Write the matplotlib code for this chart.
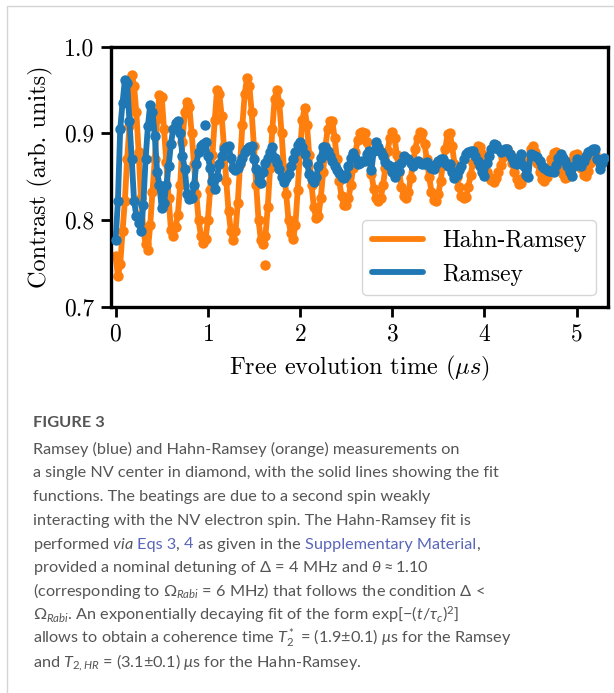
"""
Ramsey / Hahn-Ramsey contrast vs free evolution time, with figure caption
"""

import matplotlib
matplotlib.use("Agg")
import matplotlib.pyplot as plt
import numpy as np
from matplotlib.patches import Rectangle
from matplotlib.ticker import FormatStrFormatter

# sampling step of the measured free evolution time (us)
time_step_us = 0.025

# Hahn-Ramsey contrast (orange)
hahn_ramsey = [
    0.759, 0.736, 0.749, 0.787, 0.822, 0.870, 0.908, 0.967, 0.955, 0.924,
    0.878, 0.825, 0.790, 0.772, 0.766, 0.794, 0.833, 0.870, 0.916, 0.944,
    0.942, 0.905, 0.867, 0.825, 0.789, 0.782, 0.792, 0.806, 0.840, 0.890,
    0.925, 0.936, 0.930, 0.900, 0.865, 0.830, 0.800, 0.782, 0.774, 0.778,
    0.800, 0.835, 0.875, 0.915, 0.950, 0.945, 0.920, 0.885, 0.845, 0.810,
    0.787, 0.777, 0.787, 0.820, 0.865, 0.910, 0.945, 0.964, 0.955, 0.925,
    0.885, 0.840, 0.800, 0.777, 0.772, 0.782, 0.815, 0.860, 0.905, 0.940,
    0.950, 0.935, 0.900, 0.860, 0.830, 0.800, 0.785, 0.778, 0.795, 0.835,
    0.880, 0.915, 0.929, 0.910, 0.875, 0.840, 0.815, 0.802, 0.805, 0.825,
    0.855, 0.885, 0.905, 0.914, 0.914, 0.895, 0.870, 0.845, 0.828, 0.818,
    0.817, 0.825, 0.840, 0.860, 0.878, 0.892, 0.900, 0.901, 0.900, 0.890,
    0.872, 0.853, 0.836, 0.826, 0.822, 0.825, 0.840, 0.860, 0.880, 0.895,
    0.902, 0.895, 0.875, 0.855, 0.838, 0.828, 0.825, 0.832, 0.848, 0.866,
    0.882, 0.895, 0.902, 0.900, 0.888, 0.870, 0.850, 0.833, 0.823, 0.822,
    0.830, 0.845, 0.865, 0.882, 0.899, 0.900, 0.885, 0.865, 0.850, 0.838,
    0.828, 0.825, 0.827, 0.838, 0.852, 0.866, 0.878, 0.885, 0.884, 0.876,
    0.865, 0.856, 0.850, 0.846, 0.844, 0.848, 0.855, 0.864, 0.873, 0.880,
    0.882, 0.876, 0.866, 0.855, 0.847, 0.842, 0.843, 0.850, 0.860, 0.872,
    0.882, 0.885, 0.878, 0.866, 0.855, 0.847, 0.845, 0.850, 0.860, 0.870,
    0.877, 0.878, 0.872, 0.862, 0.853, 0.848, 0.850, 0.858, 0.868, 0.875,
    0.876, 0.870, 0.860, 0.852, 0.851, 0.857, 0.866, 0.874, 0.876, 0.870,
    0.865, 0.868,
]

# Ramsey contrast (blue)
ramsey = [
    0.777, 0.822, 0.905, 0.935, 0.961, 0.958, 0.914, 0.870, 0.822, 0.805,
    0.797, 0.787, 0.817, 0.870, 0.908, 0.933, 0.924, 0.897, 0.856, 0.840,
    0.814, 0.820, 0.840, 0.862, 0.888, 0.905, 0.912, 0.914, 0.900, 0.874,
    0.859, 0.830, 0.824, 0.825, 0.840, 0.865, 0.878, 0.885, 0.888, 0.890,
    0.874, 0.860, 0.845, 0.836, 0.850, 0.865, 0.874, 0.882, 0.884, 0.885,
    0.872, 0.860, 0.858, 0.860, 0.866, 0.872, 0.878, 0.882, 0.884, 0.885,
    0.870, 0.859, 0.845, 0.843, 0.856, 0.866, 0.872, 0.878, 0.884, 0.872,
    0.866, 0.859, 0.850, 0.844, 0.848, 0.853, 0.862, 0.870, 0.878, 0.886,
    0.890, 0.884, 0.876, 0.866, 0.853, 0.847, 0.844, 0.850, 0.862, 0.872,
    0.884, 0.884, 0.880, 0.874, 0.868, 0.862, 0.858, 0.854, 0.850, 0.848,
    0.852, 0.862, 0.872, 0.877, 0.872, 0.865, 0.866, 0.868, 0.868, 0.876,
    0.880, 0.858, 0.880, 0.890, 0.884, 0.878, 0.874, 0.867, 0.864, 0.862,
    0.856, 0.850, 0.862, 0.857, 0.866, 0.874, 0.872, 0.870, 0.866, 0.862,
    0.866, 0.868, 0.866, 0.865, 0.865, 0.867, 0.864, 0.860, 0.859, 0.865,
    0.868, 0.870, 0.870, 0.866, 0.862, 0.865, 0.856, 0.848, 0.852, 0.858,
    0.862, 0.870, 0.876, 0.878, 0.880, 0.880, 0.874, 0.868, 0.862, 0.855,
    0.851, 0.866, 0.874, 0.882, 0.888, 0.887, 0.882, 0.878, 0.880, 0.882,
    0.882, 0.876, 0.872, 0.866, 0.865, 0.872, 0.876, 0.862, 0.852, 0.850,
    0.876, 0.875, 0.874, 0.873, 0.868, 0.862, 0.860, 0.858, 0.857, 0.857,
    0.856, 0.864, 0.872, 0.876, 0.872, 0.868, 0.862, 0.855, 0.851, 0.862,
    0.870, 0.866, 0.862, 0.868, 0.874, 0.878, 0.880, 0.882, 0.882, 0.870,
    0.859, 0.866, 0.872,
]

# single points that sit away from the solid lines
hahn_ramsey_stray_t = [1.62]
hahn_ramsey_stray_c = [0.748]
ramsey_stray_t = [0.97]
ramsey_stray_c = [0.910]

series_labels = ["Hahn-Ramsey", "Ramsey"]
x_ticks = [0, 1, 2, 3, 4, 5]
y_ticks = [0.7, 0.8, 0.9, 1.0]

caption_title = "FIGURE 3"
caption_lines = [
    "Ramsey (blue) and Hahn-Ramsey (orange) measurements on",
    "a single NV center in diamond, with the solid lines showing the fit",
    "functions. The beatings are due to a second spin weakly",
    "interacting with the NV electron spin. The Hahn-Ramsey fit is",
    None,  # mixed-colour line, built from caption_links below
    r"provided a nominal detuning of $\Delta$ = 4 MHz and $\theta\approx$1.10",
    r"(corresponding to $\Omega_{Rabi}$ = 6 MHz) that follows the condition $\Delta$ <",
    r"$\Omega_{Rabi}$. An exponentially decaying fit of the form exp[$-(t/\tau_c)^2$]",
    r"allows to obtain a coherence time $T_2^*$ = (1.9$\pm$0.1) $\mu$s for the Ramsey",
    r"and $T_{2,HR}$ = (3.1$\pm$0.1) $\mu$s for the Hahn-Ramsey.",
]
caption_links = [
    (r"performed $via$ ", False),
    ("Eqs 3", True),
    (", ", False),
    ("4", True),
    (" as given in the ", False),
    ("Supplementary Material", True),
    (",", False),
]

ORANGE = "#ff7f0e"
BLUE = "#1f77b4"
TEXT_GREY = "#555555"
LINK_BLUE = "#5a66b8"

plt.rcParams["font.family"] = "serif"
plt.rcParams["font.serif"] = ["cmr10"]
plt.rcParams["mathtext.fontset"] = "cm"
plt.rcParams["axes.formatter.use_mathtext"] = True
plt.rcParams["mathtext.rm"] = "Lato"
plt.rcParams["mathtext.it"] = "Lato:italic"
plt.rcParams["mathtext.bf"] = "Lato:bold"

W, H = 614, 693
fig = plt.figure(figsize=(W / 100, H / 100), dpi=100)
ax = fig.add_axes([111 / W, 1 - 307 / H, (608 - 111) / W, (307 - 46.5) / H])

t_hr = np.arange(len(hahn_ramsey)) * time_step_us
t_r = np.arange(len(ramsey)) * time_step_us

line_kw = dict(lw=4.2, solid_capstyle="round", solid_joinstyle="round")
dot_kw = dict(ls="none", marker="o", ms=7.5, mew=0)

ax.plot(t_hr, hahn_ramsey, color=ORANGE, label=series_labels[0], zorder=2, **line_kw)
ax.plot(t_hr, hahn_ramsey, color=ORANGE, zorder=2, **dot_kw)
ax.plot(hahn_ramsey_stray_t, hahn_ramsey_stray_c, color=ORANGE, zorder=2, **dot_kw)
ax.plot(t_r, ramsey, color=BLUE, label=series_labels[1], zorder=3, **line_kw)
ax.plot(t_r, ramsey, color=BLUE, zorder=3, **dot_kw)
ax.plot(ramsey_stray_t, ramsey_stray_c, color=BLUE, zorder=3, **dot_kw)

ax.set_xlim(-0.05, 5.34)
ax.set_ylim(0.7, 1.0)
ax.set_xticks(x_ticks)
ax.set_yticks(y_ticks)
ax.yaxis.set_major_formatter(FormatStrFormatter("%.1f"))
ax.tick_params(direction="out", length=7, width=2, labelsize=17, pad=5)
for sp in ax.spines.values():
    sp.set_linewidth(2.4)

ax.set_xlabel(r"Free evolution time ($\mu s$)", fontsize=17.5, labelpad=6)
ax.set_ylabel("Contrast (arb. units)", fontsize=17.5, labelpad=8)

leg = ax.legend(loc="lower right", fontsize=17, handlelength=2.2,
                fancybox=True, framealpha=0.8)

# light grey panel border (top and left edges)
fig.add_artist(Rectangle((7 / W, -0.1), 1.2, 1.1 - 6 / H, transform=fig.transFigure,
                         fill=False, edgecolor="#d4d4d4", lw=1.0))

# caption
cap_family = ["Lato", "DejaVu Sans"]
cap_size = 11.7
x0 = 33 / W
fig.text(x0, 1 - 427 / H, caption_title, family=cap_family, fontsize=11.8,
         fontweight="bold", color=TEXT_GREY, va="baseline")

renderer = fig.canvas.get_renderer()


def advance(s, **kw):
    """width of s in figure fraction, trailing spaces included"""
    a = fig.text(0, 0, s + "|", **kw)
    b = fig.text(0, 0, "|", **kw)
    w = a.get_window_extent(renderer).width - b.get_window_extent(renderer).width
    a.remove()
    b.remove()
    return w / W


base_kw = dict(family=cap_family, fontsize=cap_size, va="baseline",
               math_fontfamily="custom")
first_base = 453.7
spacing = 23.7
for k, line in enumerate(caption_lines):
    y = 1 - (first_base + k * spacing) / H
    if line is not None:
        fig.text(x0, y, line, color=TEXT_GREY, **base_kw)
        continue
    x = x0
    for seg, is_link in caption_links:
        fig.text(x, y, seg, color=LINK_BLUE if is_link else TEXT_GREY, **base_kw)
        x += advance(seg, **base_kw)

fig.savefig("out.png", dpi=100)
